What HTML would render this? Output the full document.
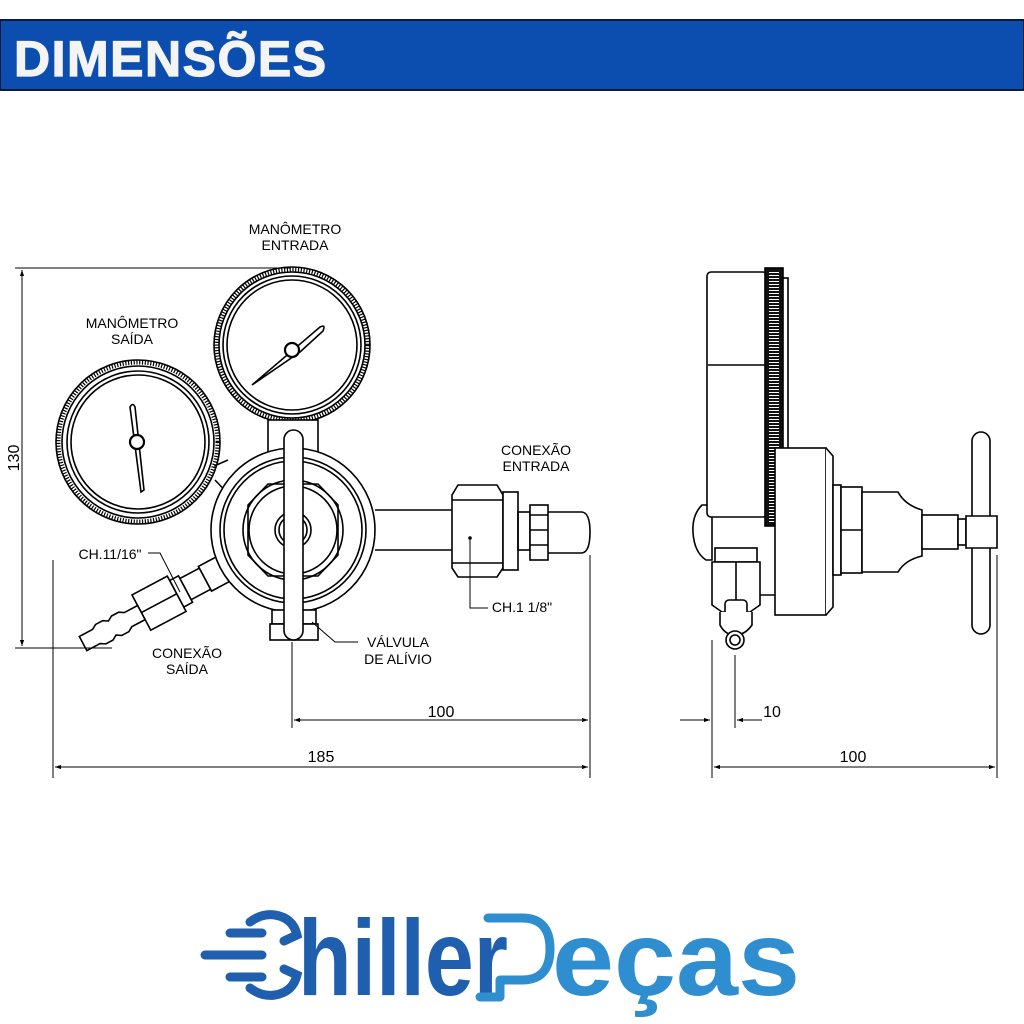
<!DOCTYPE html>
<html><head><meta charset="utf-8"><style>
html,body{margin:0;padding:0;background:#fff}
svg{display:block}
text{font-family:"Liberation Sans",Arial,sans-serif}
</style></head><body>
<svg width="1024" height="1024" viewBox="0 0 1024 1024" xmlns="http://www.w3.org/2000/svg">
<defs>
<marker id="ar" viewBox="0 0 10 10" refX="10" refY="5" markerWidth="9" markerHeight="6" orient="auto-start-reverse" markerUnits="userSpaceOnUse"><path d="M0,1.5 L10,5 L0,8.5 z" fill="#000"/></marker>
</defs>
<!-- header -->
<rect x="0" y="20" width="1024" height="70" fill="#0b4eb0" stroke="#0a1a3a" stroke-width="2"/>
<text x="14" y="76" font-size="50" font-weight="bold" fill="#f4f4f4" stroke="#f4f4f4" stroke-width="1.2" letter-spacing="1.5">DIMENSÕES</text>

<g fill="none" stroke="#000" stroke-width="1.6">
<!-- top gauge -->
<circle cx="292" cy="345" r="76" stroke-width="5" stroke-dasharray="1.2 1.6"/>
<circle cx="292" cy="345" r="78"/>
<circle cx="292" cy="345" r="73"/>
<circle cx="292" cy="345" r="69"/>
<circle cx="292" cy="345" r="65"/>
<path d="M252,385 L320,327 Q326,324 323,331 L300,352 Z" fill="#fff"/>
<circle cx="292" cy="350" r="7" fill="#fff" stroke-width="2.2"/>
<!-- left gauge -->
<path d="M215,480 L232,498 M205,470 L228,460"/>
<circle cx="138" cy="442" r="80" stroke-width="5" stroke-dasharray="1.2 1.6" fill="#fff"/>
<circle cx="138" cy="442" r="82"/>
<circle cx="138" cy="442" r="76"/>
<circle cx="138" cy="442" r="71"/>
<circle cx="138" cy="442" r="67"/>
<path d="M130,407 Q133,402 135,407 L144,490 L141,492 Z" fill="#fff"/>
<circle cx="137" cy="442" r="7" fill="#fff" stroke-width="2.2"/>
<rect x="268" y="420" width="50" height="36" fill="#fff"/>
<!-- outlet angled -->
<g transform="translate(212,575) rotate(-28)" fill="#fff">
<rect x="-8" y="-14" width="20" height="28"/>
<rect x="-30" y="-12" width="22" height="24"/>
<rect x="-40" y="-15" width="10" height="30"/>
<rect x="-80" y="-20" width="40" height="40"/>
<line x1="-80" y1="0" x2="-40" y2="0"/>
<path d="M-80,-8 L-95,-8 L-100,-11 L-108,-11 L-113,-8 L-118,-11 L-126,-11 L-131,-8 L-146,-8 L-146,8 L-131,8 L-126,11 L-118,11 L-113,8 L-108,11 L-100,11 L-95,8 L-80,8 Z"/>
</g>
<!-- body -->
<circle cx="293" cy="530" r="82" fill="#fff"/>
<circle cx="293" cy="530" r="73"/>
<circle cx="293" cy="530" r="69"/>
<circle cx="293" cy="530" r="50"/>
<path d="M248,505 L268,484 L318,484 L338,505 L338,555 L318,576 L268,576 L248,555 Z"/>
<circle cx="293" cy="530" r="44"/>
<circle cx="293" cy="530" r="18"/>
<circle cx="293" cy="530" r="14"/>
<rect x="272" y="610" width="44" height="14" fill="#fff"/>
<rect x="270" y="624" width="48" height="16" fill="#fff"/>
<rect x="284" y="430" width="19" height="210" rx="9.5" fill="#fff"/>
<!-- right pipe -->
<path d="M375,510 L452,510 M375,550 L452,550"/>
<path d="M458,485 L497,485 L503,495 L503,568 L497,577 L458,577 L452,568 L452,495 Z" fill="#fff"/>
<line x1="452" y1="500" x2="503" y2="500"/><line x1="452" y1="563" x2="503" y2="563"/>
<rect x="503" y="492" width="15" height="78" fill="#fff"/>
<rect x="518" y="512" width="12" height="38"/>
<rect x="530" y="505" width="18" height="55" fill="#fff"/>
<path d="M530,515 H548 M530,530 H548 M530,545 H548"/>
<path d="M548,512 L582,512 Q590,513 590,532 Q590,552 582,553 L548,553"/>
<circle cx="470" cy="538" r="1" fill="#000"/>
</g>
<!-- leaders -->
<g fill="none" stroke="#000" stroke-width="1">
<path d="M470,538 V608 H488"/>
<path d="M148,553 H160 L180,592"/>
<path d="M312,622 L335,642 H358"/>
<path d="M15,268 H290 M15,648 H112"/>
<line x1="22" y1="270" x2="22" y2="646" marker-start="url(#ar)" marker-end="url(#ar)"/>
<path d="M292,642 V728 M590,555 V778 M53,560 V778"/>
<line x1="294" y1="720" x2="588" y2="720" marker-start="url(#ar)" marker-end="url(#ar)"/>
<line x1="55" y1="767" x2="588" y2="767" marker-start="url(#ar)" marker-end="url(#ar)"/>
<path d="M712,640 V778 M735,655 V728 M997,555 V778"/>
<line x1="680" y1="720" x2="710" y2="720" marker-end="url(#ar)"/>
<line x1="762" y1="720" x2="737" y2="720" marker-end="url(#ar)"/>
<line x1="714" y1="767" x2="995" y2="767" marker-start="url(#ar)" marker-end="url(#ar)"/>
</g>

<!-- side view -->
<g fill="#fff" stroke="#000" stroke-width="1.6">
<path d="M702,505 Q692,515 693,532 Q694,552 706,560 L712,560 L712,505 Z"/>
<rect x="707" y="272" width="60" height="245" rx="4"/>
<line x1="708" y1="365" x2="767" y2="365"/>
<rect x="765" y="268" width="18" height="258" fill="#111"/>
<line x1="774" y1="272" x2="774" y2="522" stroke="#fff" stroke-width="10" stroke-dasharray="1 2"/>
<rect x="783" y="278" width="5" height="238"/>
<rect x="775" y="448" width="51" height="167"/>
<path d="M826,448 L833,456 L833,607 L826,615"/>
<rect x="833" y="485" width="8" height="90"/>
<rect x="841" y="487" width="21" height="86"/>
<line x1="841" y1="530" x2="862" y2="530"/>
<path d="M862,492 L898,492 Q905,505 922,510 L922,556 Q905,560 898,572 L862,572 Z"/>
<rect x="922" y="515" width="36" height="34"/>
<rect x="958" y="519" width="8" height="26"/>
<rect x="972" y="432" width="18" height="202" rx="9"/>
<path d="M966,516 H997 V548 H966 Z"/>
<line x1="712" y1="595" x2="775" y2="595"/>
<rect x="715" y="548" width="42" height="14"/>
<path d="M712,562 L760,562 L760,605 L750,612 L722,612 L712,605 Z"/>
<line x1="736" y1="562" x2="736" y2="612"/>
<rect x="725" y="600" width="22" height="30" rx="4"/>
<path d="M720,612 L720,625 Q725,635 735,635 Q745,635 752,625 L752,612"/>
<circle cx="735" cy="640" r="9"/>
<circle cx="735" cy="640" r="5"/>
</g>

<!-- labels -->
<g font-size="14" fill="#000" text-anchor="middle">
<text x="295" y="234">MANÔMETRO</text><text x="295" y="250">ENTRADA</text>
<text x="132" y="328">MANÔMETRO</text><text x="132" y="344">SAÍDA</text>
<text x="536" y="455">CONEXÃO</text><text x="536" y="471">ENTRADA</text>
<text x="187" y="658">CONEXÃO</text><text x="187" y="674">SAÍDA</text>
<text x="398" y="647">VÁLVULA</text><text x="398" y="664">DE ALÍVIO</text>
<text x="110" y="559">CH.11/16"</text>
<text x="522" y="612">CH.1 1/8"</text>
<text x="441" y="717" font-size="16">100</text>
<text x="321" y="762" font-size="16">185</text>
<text x="772" y="717" font-size="16">10</text>
<text x="853" y="762" font-size="16">100</text>
<text x="0" y="0" font-size="16" transform="translate(19,458) rotate(-90)">130</text>
</g>

<!-- logo -->
<g stroke="#1f5fae" stroke-width="9" stroke-linecap="round" fill="none">
<path d="M230,933 H262 M205,955 H262 M230,977 H262"/>
<path d="M250,922 Q262,913 275,915 Q293,918 297,935 L284,941"/>
<path d="M250,988 Q262,997 275,995 Q293,992 297,975 L284,969"/>
</g>
<text x="298" y="995" font-size="108" font-weight="bold" fill="#1f5fae" textLength="210" lengthAdjust="spacingAndGlyphs">hiller</text>
<path d="M488,918 H522 Q550,918 550,949 Q550,980 522,980 H500 V997 H480" fill="none" stroke="#2f8ed0" stroke-width="9" stroke-linecap="round" stroke-linejoin="round"/>
<text x="552" y="995" font-size="106" font-weight="bold" fill="#2f8ed0" textLength="248" lengthAdjust="spacingAndGlyphs">eças</text>
</svg>
</body></html>
